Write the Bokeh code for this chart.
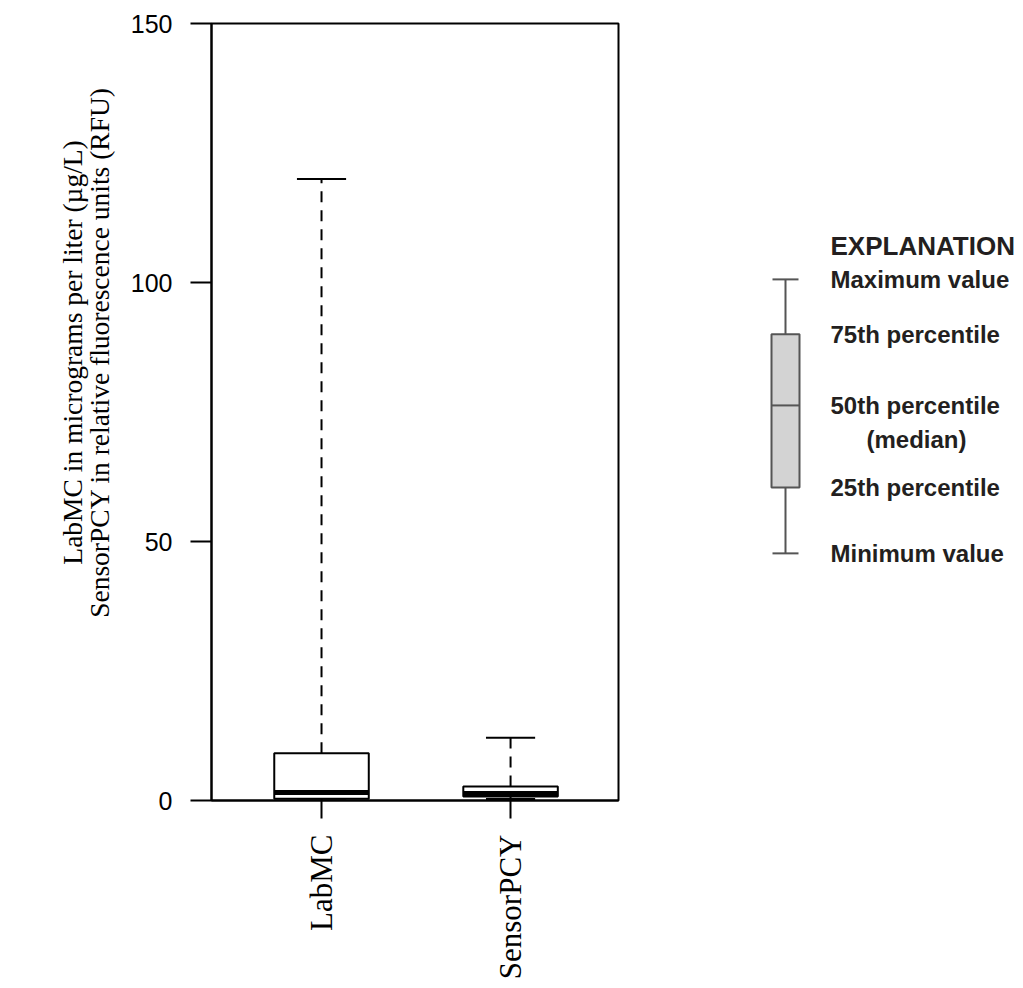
import numpy as np
from bokeh.plotting import figure
from bokeh.models import Range1d, FixedTicker, ColumnDataSource
from bokeh.layouts import row
from bokeh.core.properties import value
from bokeh.embed import file_html
from bokeh.resources import INLINE

# Box-plot summary statistics per variable
categories = ["LabMC", "SensorPCY"]
minimum = [0.0, 0.3]
q1 = [0.35, 0.77]
median = [1.55, 1.35]
q3 = [9.1, 2.7]
maximum = [120.0, 12.1]

y_ticks = [0, 50, 100, 150]
y_title = ["LabMC in micrograms per liter (\u00b5g/L)",
           "SensorPCY in relative fluorescence units (RFU)"]

# Example box used in the explanation panel
legend_stats = {"min": 0, "q1": 24, "median": 54, "q3": 80, "max": 100}
legend_labels = ["Maximum value", "75th percentile", "50th percentile",
                 "25th percentile", "Minimum value"]

SERIF = "Liberation Serif"
SANS = "Liberation Sans"
Y_MAX = 150

# ------------------------------------------------------- y title strip
t = figure(width=120, height=988, output_backend="svg", toolbar_location=None,
           x_range=Range1d(0, 120), y_range=Range1d(0, Y_MAX),
           min_border_left=0, min_border_right=0)
t.axis.visible = False
t.grid.visible = False
t.outline_line_color = None
t.background_fill_color = "white"
t.border_fill_color = "white"
t.text(x=[72, 99], y=[86.5, 86.5], text=y_title, angle=np.pi / 2,
       text_font=value(SERIF), text_font_size="27.5px", text_color="black",
       text_align="center", text_baseline="middle")

# ---------------------------------------------------------------- main plot
xpos = list(range(len(categories)))
box_w = 0.5
cap_w = 0.26

src = ColumnDataSource(dict(
    x=xpos, lo=minimum, q1=q1, med=median, q3=q3, hi=maximum,
    bx0=[v - box_w / 2 for v in xpos], bx1=[v + box_w / 2 for v in xpos],
    cx0=[v - cap_w / 2 for v in xpos], cx1=[v + cap_w / 2 for v in xpos],
))

p = figure(width=520, height=988, output_backend="svg", toolbar_location=None,
           x_range=Range1d(-0.582, 1.571), y_range=Range1d(0, Y_MAX),
           min_border_left=91, min_border_right=22,
           min_border_top=23, min_border_bottom=188)
p.background_fill_color = "white"
p.border_fill_color = "white"
p.outline_line_color = "black"
p.outline_line_width = 2
p.xgrid.visible = False
p.ygrid.visible = False

# whiskers (dashed)
p.segment(x0="x", x1="x", y0="q3", y1="hi", source=src, line_color="black",
          line_width=2, line_dash="11 8")
p.segment(x0="x", x1="x", y0="lo", y1="q1", source=src, line_color="black",
          line_width=2, line_dash="11 8")
# boxes
p.vbar(x="x", width=box_w, bottom="q1", top="q3", source=src,
       fill_color="white", line_color="black", line_width=2)
# medians
p.segment(x0="bx0", x1="bx1", y0="med", y1="med", source=src,
          line_color="black", line_width=5, line_cap="butt")
# caps
p.segment(x0="cx0", x1="cx1", y0="hi", y1="hi", source=src,
          line_color="black", line_width=2)
p.segment(x0="cx0", x1="cx1", y0="lo", y1="lo", source=src,
          line_color="black", line_width=2)

# y axis
p.yaxis.ticker = FixedTicker(ticks=y_ticks)
p.yaxis.major_tick_out = 21
p.yaxis.major_tick_in = 0
p.yaxis.minor_tick_line_color = None
p.yaxis.major_tick_line_width = 2
p.yaxis.axis_line_width = 2
p.yaxis.major_label_text_font = SANS
p.yaxis.major_label_text_font_size = "25px"
p.yaxis.major_label_text_color = "black"
p.yaxis.major_label_standoff = 18

# x axis
p.xaxis.ticker = FixedTicker(ticks=xpos)
p.xaxis.major_label_overrides = {i: c for i, c in zip(xpos, categories)}
p.xaxis.major_label_orientation = np.pi / 2
p.xaxis.major_tick_out = 18
p.xaxis.major_tick_in = 0
p.xaxis.minor_tick_line_color = None
p.xaxis.major_tick_line_width = 2
p.xaxis.axis_line_width = 2
p.xaxis.major_label_text_font = SERIF
p.xaxis.major_label_text_font_size = "31px"
p.xaxis.major_label_text_color = "black"
p.xaxis.major_label_standoff = 16

# ---------------------------------------------------------- explanation
q = figure(width=383, height=988, output_backend="svg", toolbar_location=None,
           x_range=Range1d(-145, 238), y_range=Range1d(-90.2, 193.4),
           min_border=0)
q.axis.visible = False
q.grid.visible = False
q.outline_line_color = None
q.background_fill_color = "white"
q.border_fill_color = "white"

s = legend_stats
gray = "#555555"
q.segment(x0=[0], x1=[0], y0=[s["min"]], y1=[s["max"]], line_color=gray,
          line_width=2)
q.vbar(x=[0], width=28, bottom=[s["q1"]], top=[s["q3"]],
       fill_color="#d3d3d3", line_color=gray, line_width=2)
q.segment(x0=[-14], x1=[14], y0=[s["median"]], y1=[s["median"]],
          line_color=gray, line_width=2)
q.segment(x0=[-13, -13], x1=[13, 13], y0=[s["min"], s["max"]],
          y1=[s["min"], s["max"]], line_color=gray, line_width=2)

label_y = [s["max"], s["q3"], s["median"], s["q1"], s["min"]]
q.text(x=[45] * len(legend_labels), y=label_y, text=legend_labels,
       text_font=value(SANS), text_font_style="bold",
       text_font_size="24px", text_color="#231f20",
       text_align="left", text_baseline="middle")
q.text(x=[131], y=[s["median"]], y_offset=[34], text=["(median)"],
       text_font=value(SANS), text_font_style="bold",
       text_font_size="24px", text_color="#231f20",
       text_align="center", text_baseline="middle")
q.text(x=[45], y=[s["max"]], y_offset=[-33], text=["EXPLANATION"],
       text_font=value(SANS), text_font_style="bold",
       text_font_size="26px", text_color="#231f20",
       text_align="left", text_baseline="middle")

layout = row(t, p, q)
open("out.html", "w").write(file_html(layout, INLINE))
